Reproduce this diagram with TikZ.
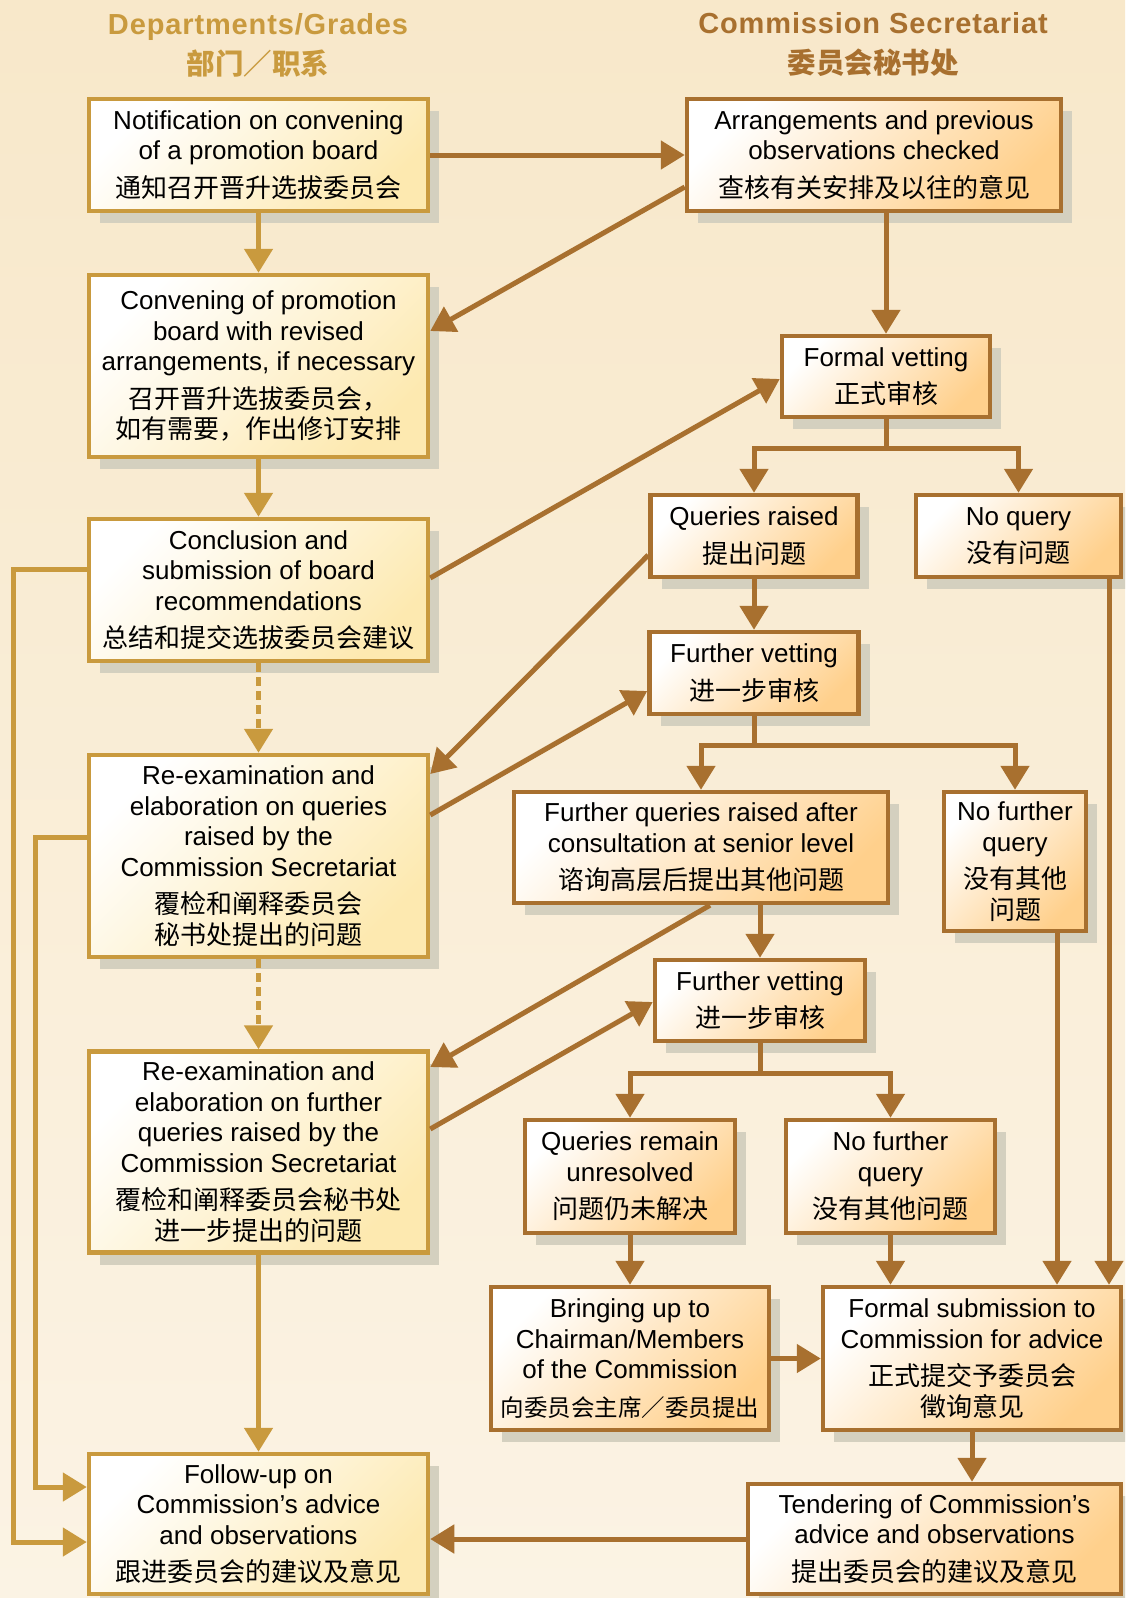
\documentclass[tikz,border=0pt]{standalone}
\usepackage{fontspec}
\setmainfont{Liberation Sans}
\newfontfamily\cjk{Noto Sans CJK SC}
\newfontfamily\headfont{Liberation Sans}[LetterSpace=3]
\usepackage{xcolor}
\usepackage{tikz}
\usetikzlibrary{arrows.meta, shadows}

\definecolor{goldline}{RGB}{201,154,62}
\definecolor{brownline}{RGB}{168,112,47}
\definecolor{lfill}{RGB}{253,233,176}
\definecolor{rfill}{RGB}{255,208,140}
\definecolor{shadowgray}{RGB}{212,208,191}
\definecolor{bgtop}{RGB}{248,232,202}
\definecolor{bgbot}{RGB}{251,243,228}

\tikzset{
    box/.style={line width=4.5pt, align=center, inner sep=0pt,
        font=\fontsize{26}{30.5}\selectfont,
        drop shadow={shadow xshift=11pt, shadow yshift=-12pt, fill=shadowgray, opacity=1}},
    lbox/.style={box, draw=goldline, top color=white, bottom color=lfill, shading angle=45},
    rbox/.style={box, draw=brownline, top color=white, bottom color=rfill, shading angle=45},
    lline/.style={goldline, line width=5pt},
    rline/.style={brownline, line width=5pt},
    arr/.style={-{Triangle[length=24pt, width=28pt]}},
    dashline/.style={dash pattern=on 9pt off 5pt},
    head/.style={font=\headfont\bfseries\fontsize{29}{40}\selectfont, align=center}
}
\newcommand{\headzh}[1]{{\cjk\fontsize{28.5}{40}\selectfont #1}}

\begin{document}
\begin{tikzpicture}[x=1pt, y=-1pt]
    % 0. Nền
    \clip (0,0) rectangle (1125,1598);
    \fill[top color=bgtop, bottom color=bgbot] (0,0) rectangle (1125,1598);

    % 1. Tiêu đề hai cột
    \node[head, text=goldline] (lhead) at (258,45) {Departments/Grades\\\headzh{部门／职系}};
    \node[head, text=brownline] (rhead) at (873,45) {Commission Secretariat\\\headzh{委员会秘书处}};

    % 2. Cột trái (Departments/Grades)
    \node[lbox, minimum width=339, minimum height=112] (notify) at (258.5,155)
        {Notification on convening\\of a promotion board\\[7pt]{\cjk 通知召开晋升选拔委员会}};
    \node[lbox, minimum width=339, minimum height=182] (convene) at (258.5,366)
        {Convening of promotion\\board with revised\\arrangements, if necessary\\[7pt]{\cjk 召开晋升选拔委员会，}\\{\cjk 如有需要，作出修订安排}};
    \node[lbox, minimum width=339, minimum height=142] (conclude) at (258.5,590)
        {Conclusion and\\submission of board\\recommendations\\[7pt]{\cjk 总结和提交选拔委员会建议}};
    \node[lbox, minimum width=339, minimum height=202] (reexamA) at (258.5,856)
        {Re-examination and\\elaboration on queries\\raised by the\\Commission Secretariat\\[7pt]{\cjk 覆检和阐释委员会}\\{\cjk 秘书处提出的问题}};
    \node[lbox, minimum width=339, minimum height=201] (reexamB) at (258.5,1152)
        {Re-examination and\\elaboration on further\\queries raised by the\\Commission Secretariat\\[7pt]{\cjk 覆检和阐释委员会秘书处}\\{\cjk 进一步提出的问题}};
    \node[lbox, minimum width=339, minimum height=140] (follow) at (258.5,1524)
        {Follow-up on\\Commission’s advice\\and observations\\[7pt]{\cjk 跟进委员会的建议及意见}};

    % 3. Cột phải (Commission Secretariat)
    \node[rbox, minimum width=374, minimum height=112] (arrange) at (874,155)
        {Arrangements and previous\\observations checked\\[7pt]{\cjk 查核有关安排及以往的意见}};
    \node[rbox, minimum width=208, minimum height=81] (formal) at (886,376.5)
        {Formal vetting\\[7pt]{\cjk 正式审核}};
    \node[rbox, minimum width=207, minimum height=82] (queries) at (754,536)
        {Queries raised\\[7pt]{\cjk 提出问题}};
    \node[rbox, minimum width=205, minimum height=82] (noquery) at (1018.5,536)
        {No query\\[7pt]{\cjk 没有问题}};
    \node[rbox, minimum width=209, minimum height=82] (furtherA) at (754,673)
        {Further vetting\\[7pt]{\cjk 进一步审核}};
    \node[rbox, minimum width=374, minimum height=111] (fquery) at (701,847.5)
        {Further queries raised after\\consultation at senior level\\[7pt]{\cjk 谘询高层后提出其他问题}};
    \node[rbox, minimum width=142, minimum height=139] (nofurtherA) at (1015,861.5)
        {No further\\query\\[7pt]{\cjk 没有其他}\\{\cjk 问题}};
    \node[rbox, minimum width=210, minimum height=81] (furtherB) at (760,1000.5)
        {Further vetting\\[7pt]{\cjk 进一步审核}};
    \node[rbox, minimum width=210, minimum height=113] (unresolved) at (630,1176.5)
        {Queries remain\\unresolved\\[7pt]{\cjk 问题仍未解决}};
    \node[rbox, minimum width=209, minimum height=113] (nofurtherB) at (890.5,1176.5)
        {No further\\query\\[7pt]{\cjk 没有其他问题}};
    \node[rbox, minimum width=278, minimum height=143] (chairman) at (630,1358.5)
        {Bringing up to\\Chairman/Members\\of the Commission\\[7pt]{\cjk\fontsize{23.5}{30.5}\selectfont 向委员会主席／委员提出}};
    \node[rbox, minimum width=298, minimum height=143] (submit) at (972,1358.5)
        {Formal submission to\\Commission for advice\\[7pt]{\cjk 正式提交予委员会}\\{\cjk 徵询意见}};
    \node[rbox, minimum width=373, minimum height=110] (tender) at (934.5,1539)
        {Tendering of Commission’s\\advice and observations\\[7pt]{\cjk 提出委员会的建议及意见}};

    % 4. Mũi tên cột trái
    \draw[lline, arr] (notify.south) -- (convene.north);
    \draw[lline, arr] (convene.south) -- (conclude.north);
    \draw[lline, arr, dashline] (conclude.south) -- (reexamA.north);
    \draw[lline, arr, dashline] (reexamA.south) -- (reexamB.north);
    \draw[lline, arr] (reexamB.south) -- (follow.north);
    \draw[lline, arr] (conclude.west |- 0,569) -| (13,1542) -- (follow.west |- 0,1542);
    \draw[lline, arr] (reexamA.west |- 0,837) -| (35,1487) -- (follow.west |- 0,1487);

    % 5. Mũi tên cột phải
    \draw[rline, arr] (notify.east) -- (arrange.west);
    \draw[rline, arr] (formal.north |- arrange.south) -- (formal.north);
    \coordinate (fsplit) at (formal.south |- 0,448);
    \draw[rline] (formal.south) -- (fsplit);
    \draw[rline, arr] (fsplit) -| (queries.north);
    \draw[rline, arr] (fsplit) -| (noquery.north);
    \draw[rline, arr] (queries.south) -- (furtherA.north);
    \coordinate (asplit) at (furtherA.south |- 0,745);
    \draw[rline] (furtherA.south) -- (asplit);
    \draw[rline, arr] (asplit) -| (fquery.north);
    \draw[rline, arr] (asplit) -| (nofurtherA.north);
    \draw[rline, arr] (furtherB.north |- fquery.south) -- (furtherB.north);
    \coordinate (bsplit) at (furtherB.south |- 0,1073);
    \draw[rline] (furtherB.south) -- (bsplit);
    \draw[rline, arr] (bsplit) -| (unresolved.north);
    \draw[rline, arr] (bsplit) -| (nofurtherB.north);
    \draw[rline, arr] (unresolved.south) -- (chairman.north);
    \draw[rline, arr] (nofurtherB.south) -- (nofurtherB.south |- submit.north);
    \draw[rline, arr] (1057,0 |- nofurtherA.south) -- (1057,0 |- submit.north);
    \draw[rline, arr] (1109,0 |- noquery.south) -- (1109,0 |- submit.north);
    \draw[rline, arr] (chairman.east) -- (submit.west);
    \draw[rline, arr] (submit.south) -- (submit.south |- tender.north);
    \draw[rline, arr] (tender.west) -- (tender.west -| follow.east);

    % 6. Các đường chéo giữa hai cột
    \draw[rline, arr] (arrange.west |- 0,187) -- (convene.east |- 0,331);
    \draw[rline, arr] (conclude.east |- 0,578) -- (formal.west |- 0,379);
    \draw[rline, arr] (queries.west |- 0,555) -- (reexamA.east |- 0,774);
    \draw[rline, arr] (reexamA.east |- 0,815) -- (furtherA.west |- 0,691);
    \draw[rline, arr] (710,0 |- fquery.south) -- (reexamB.east |- 0,1067);
    \draw[rline, arr] (reexamB.east |- 0,1129) -- (furtherB.west |- 0,1002);

\end{tikzpicture}
\end{document}
